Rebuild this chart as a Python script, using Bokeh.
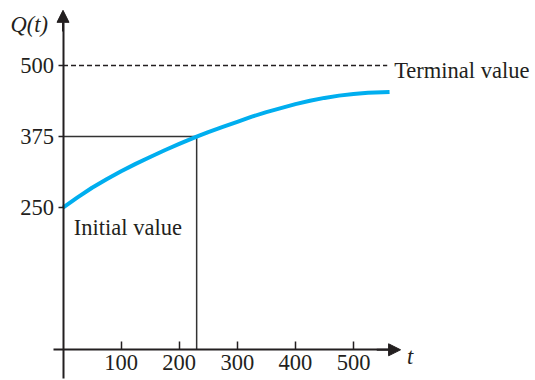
from bokeh.plotting import figure
from bokeh.models import Range1d, FixedTicker, Label, Arrow, NormalHead
from bokeh.embed import file_html
from bokeh.resources import INLINE

# ---- data ----
t_vals = [0, 25, 50, 75, 100, 125, 150, 175, 200, 230, 250, 275, 300, 325,
          350, 375, 400, 425, 450, 475, 500, 525, 550, 562]
q_vals = [250, 268, 285, 300, 314, 327, 339, 351, 362, 375, 383, 392, 401, 410,
          418, 425, 432, 438, 443, 447, 450, 452, 453, 453.5]
x_ticks = [100, 200, 300, 400, 500]
y_ticks = [250, 375, 500]
terminal_value = 500
terminal_end = 558
half_t = 230
half_q = 375

FONT = "Liberation Serif"
FS = "22.5px"
INK = "#231f20"
CURVE = "#00aeef"

p = figure(width=535, height=380, output_backend="svg", toolbar_location=None,
           x_range=Range1d(-107.6, 813.2), y_range=Range1d(-54.0, 614.3),
           min_border=0, outline_line_color=None)
p.grid.visible = False
p.background_fill_color = "white"
p.border_fill_color = "white"

# x axis through y = 0
xa = p.xaxis[0]
xa.fixed_location = 0
xa.bounds = (-16, 560)
xa.ticker = FixedTicker(ticks=x_ticks)
xa.major_tick_in = 8
xa.major_tick_out = 0
xa.minor_tick_line_color = None
xa.axis_line_width = 2
xa.axis_line_color = INK
xa.major_tick_line_width = 1.5
xa.major_tick_line_color = INK
xa.major_label_text_font = FONT
xa.major_label_text_font_size = FS
xa.major_label_text_color = INK
xa.major_label_standoff = 5

# y axis through x = 0
ya = p.yaxis[0]
ya.fixed_location = 0
ya.bounds = (-50, 575)
ya.ticker = FixedTicker(ticks=y_ticks)
ya.major_tick_in = 0
ya.major_tick_out = 5
ya.minor_tick_line_color = None
ya.axis_line_width = 2
ya.axis_line_color = INK
ya.major_tick_line_width = 1.5
ya.major_tick_line_color = INK
ya.major_label_text_font = FONT
ya.major_label_text_font_size = FS
ya.major_label_text_color = INK
ya.major_label_standoff = 4

# arrow heads on the axes
p.add_layout(Arrow(end=NormalHead(size=12, fill_color=INK, line_color=INK),
                   x_start=540, y_start=0, x_end=581, y_end=0,
                   line_color=INK, line_width=2))
p.add_layout(Arrow(end=NormalHead(size=12, fill_color=INK, line_color=INK),
                   x_start=0, y_start=560, x_end=0, y_end=597,
                   line_color=INK, line_width=2))

# terminal value dashed line
p.line([0, terminal_end], [terminal_value, terminal_value], line_color=INK,
       line_width=1.3, line_dash="5 3")

# half-way guide lines
p.line([0, half_t], [half_q, half_q], line_color="#333333", line_width=1.5)
p.line([half_t, half_t], [0, half_q], line_color="#333333", line_width=1.5)

# the curve
p.line(t_vals, q_vals, line_color=CURVE, line_width=4, line_cap="butt", line_join="round")

# labels
def lab(x, y, text, style="normal"):
    p.add_layout(Label(x=x, y=y, text=text, text_font=FONT, text_font_size=FS,
                       text_color=INK, text_font_style=style, text_baseline="alphabetic",
                       text_align="left"))

lab(-90.4, 572, "Q(t)", "italic")
lab(592, -12, "t", "italic")
lab(570, 492, "Terminal value")
lab(18.6, 215.6, "Initial value")

open("out.html", "w").write(file_html(p, INLINE))
